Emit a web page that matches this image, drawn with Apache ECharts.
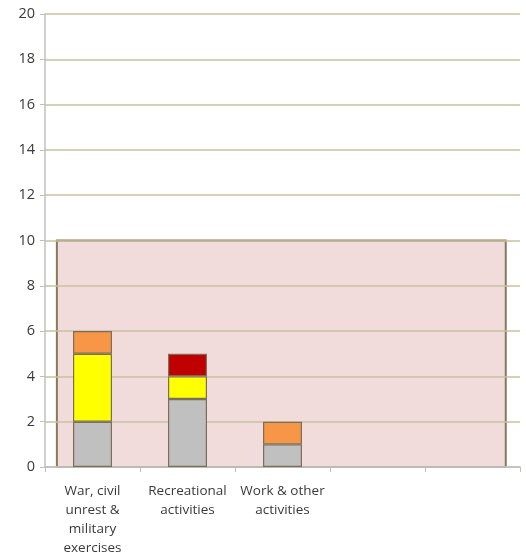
<!DOCTYPE html>
<html>
<head>
<meta charset="utf-8">
<script src="https://cdn.jsdelivr.net/npm/echarts@6/dist/echarts.min.js"></script>
<style>
html,body{margin:0;padding:0;background:#fff;}
#chart{width:526px;height:558px;}
</style>
</head>
<body>
<div id="chart"></div>
<script>
// Categories along the x axis (last two slots are empty)
const categories = ['War, civil\nunrest &\nmilitary\nexercises', 'Recreational\nactivities', 'Work & other\nactivities', '', ''];

// Stacked segment values per category
const greyValues   = [2, 3, 1, null, null];
const yellowValues = [3, 1, null, null, null];
const redValues    = [null, 1, null, null, null];
const orangeValues = [1, null, 1, null, null];

// Y axis range
const yMin = 0, yMax = 20, yStep = 2;

// Shaded band: spans values 0..10 across most of the category range
const bandYFrom = 0, bandYTo = 10;
const bandXFrom = 0.125, bandXTo = 4.85;

const font = '"Open Sans", "Noto Sans", sans-serif';
const edge = '#7a6f58';

function barSeries(name, data, color) {
  return {
    name, type: 'bar', stack: 'total', data,
    barWidth: 39, z: 5,
    itemStyle: { color, borderColor: edge, borderWidth: 1.2 }
  };
}

const chart = echarts.init(document.getElementById('chart'));
chart.setOption({
  animation: false,
  grid: { left: 45, right: 6, top: 14, bottom: 87 },
  xAxis: [{
    type: 'category', data: categories, z: 3,
    axisLine: { lineStyle: { color: '#bfbfbf', width: 1.5 } },
    axisTick: { show: true, length: 5, lineStyle: { color: '#bfbfbf' } },
    axisLabel: { color: '#3a3a3a', fontSize: 13.5, fontFamily: font, lineHeight: 19, margin: 15, interval: 0 }
  }, {
    type: 'value', min: 0, max: 5, show: false
  }],
  yAxis: {
    type: 'value', min: yMin, max: yMax, interval: yStep, z: 3,
    axisLine: { show: true, lineStyle: { color: '#bfbfbf', width: 1.5 } },
    axisTick: { show: true, length: 5, lineStyle: { color: '#bfbfbf' } },
    axisLabel: { color: '#3a3a3a', fontSize: 14.5, fontFamily: font, margin: 10 },
    splitLine: { lineStyle: { color: '#c9c1a0', width: 1.5 } }
  },
  series: [
    {
      type: 'line', xAxisIndex: 1, data: [], z: 1, silent: true,
      markArea: {
        silent: true,
        itemStyle: { color: '#f2dcdb', borderColor: '#857a5b', borderWidth: 2 },
        data: [[{ xAxis: bandXFrom, yAxis: bandYFrom }, { xAxis: bandXTo, yAxis: bandYTo }]]
      }
    },
    barSeries('grey', greyValues, '#c0c0c0'),
    barSeries('yellow', yellowValues, '#ffff00'),
    barSeries('red', redValues, '#c00000'),
    barSeries('orange', orangeValues, '#f79646')
  ]
});
</script>
</body>
</html>
